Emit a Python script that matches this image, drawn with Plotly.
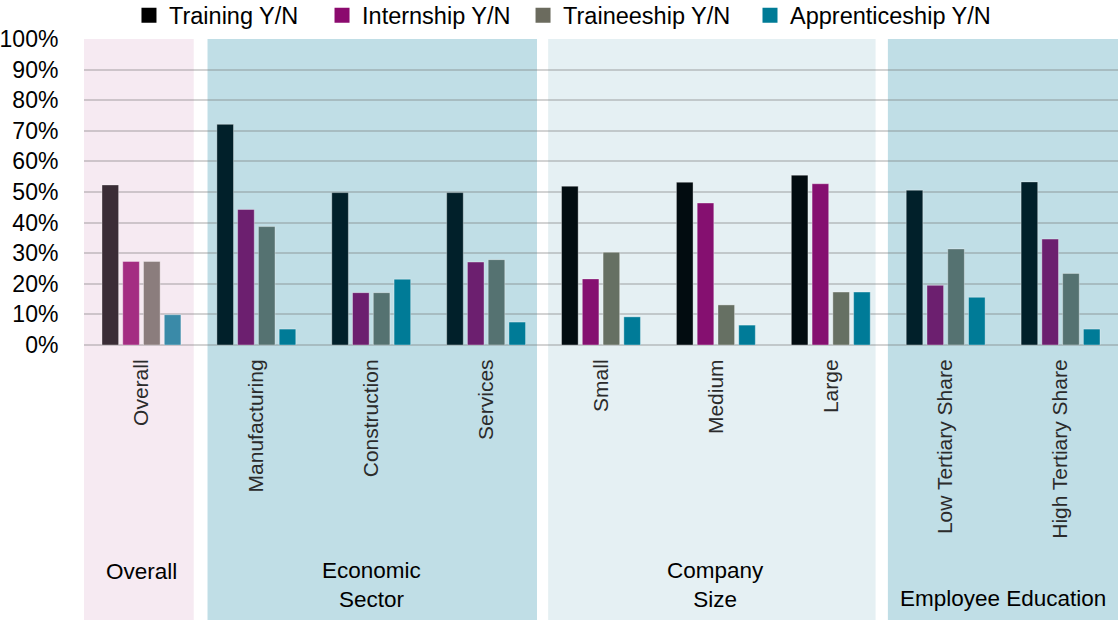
import plotly.graph_objects as go

categories = ["Overall", "Manufacturing", "Construction", "Services", "Small", "Medium",
              "Large", "Low Tertiary Share", "High Tertiary Share"]
series_names = ["Training Y/N", "Internship Y/N", "Traineeship Y/N", "Apprenticeship Y/N"]
training = [0.523, 0.721, 0.498, 0.498, 0.519, 0.532, 0.555, 0.506, 0.533]
internship = [0.273, 0.443, 0.171, 0.271, 0.216, 0.464, 0.527, 0.195, 0.346]
traineeship = [0.273, 0.387, 0.171, 0.279, 0.303, 0.131, 0.173, 0.314, 0.234]
apprenticeship = [0.099, 0.052, 0.215, 0.075, 0.092, 0.065, 0.173, 0.156, 0.052]
group_labels = ["Overall", "Economic<br>Sector", "Company<br>Size", "Employee Education"]
group_label_x = [0, 2, 5, 7.5]
group_label_y = [-0.739, -0.783, -0.783, -0.827]
bands = [(-0.55, 0.455, "#f6eaf2"), (0.575, 3.443, "#c0dee6"),
         (3.54, 6.39, "#e5f0f3"), (6.497, 8.6, "#c0dee6")]
legend_x = [0.0435, 0.2302, 0.4246, 0.6441]

values = [training, internship, traineeship, apprenticeship]

# colour per group of categories (overall / sector / size / education)
pal_overall = ["#3a2d36", "#a42d82", "#8b7d7d", "#3a8aa8"]
pal_sector = ["#01202a", "#6c1f6f", "#557271", "#007b97"]
pal_size = ["#020c10", "#851070", "#667063", "#007b98"]
cat_pal = [pal_overall, pal_sector, pal_sector, pal_sector, pal_size, pal_size, pal_size,
           pal_sector, pal_sector]
legend_colors = ["#000000", "#8b0a6e", "#6b6b5e", "#007b96"]
legend_ids = ["legend", "legend2", "legend3", "legend4"]

fig = go.Figure()
for s, (name, vals) in enumerate(zip(series_names, values)):
    fig.add_trace(go.Bar(
        x=categories, y=vals, name=name, showlegend=False,
        marker=dict(color=[cat_pal[i][s] for i in range(len(categories))],
                    line=dict(width=1, color="rgba(255,255,255,0.35)")),
        hoverinfo="x+y+name"))
for s, name in enumerate(series_names):
    fig.add_trace(go.Scatter(
        x=[None], y=[None], mode="markers", name=name, legend=legend_ids[s],
        marker=dict(symbol="square", size=15, color=legend_colors[s])))

shapes = []
for x0, x1, col in bands:
    shapes.append(dict(type="rect", xref="x", yref="paper", x0=x0, x1=x1, y0=-1.0, y1=1.0,
                       fillcolor=col, line=dict(width=0), layer="below"))

annotations = []
for lab, gx, gy in zip(group_labels, group_label_x, group_label_y):
    annotations.append(dict(text=lab, x=gx, xref="x", y=gy, yref="paper", showarrow=False,
                            xanchor="center", yanchor="middle",
                            font=dict(size=22.5, color="#000000")))

font_family = "Liberation Sans, Arial, sans-serif"
legend_layout = {}
for lid, lx in zip(legend_ids, legend_x):
    legend_layout[lid] = dict(orientation="h", x=lx, xanchor="left", y=1.077, yanchor="middle",
                              font=dict(size=23.5), itemsizing="trace",
                              bgcolor="rgba(0,0,0,0)")

fig.update_layout(
    width=1118, height=620,
    margin=dict(l=84, r=0, t=39, b=275, autoexpand=False),
    paper_bgcolor="white", plot_bgcolor="white",
    font=dict(family=font_family, color="#000000"),
    barmode="group", bargap=0.277, bargroupgap=0.2,
    shapes=shapes, annotations=annotations,
    xaxis=dict(range=[-0.5, 8.5], tickangle=-90, tickfont=dict(size=21, color="#2b2b2b"),
               ticks="outside", ticklen=5, tickcolor="rgba(0,0,0,0)", showgrid=False,
               showline=False, zeroline=False, fixedrange=True, automargin=False),
    yaxis=dict(range=[0, 1], dtick=0.1, tickformat=".0%", tickfont=dict(size=23),
               ticks="outside", ticklen=20, tickcolor="rgba(0,0,0,0)",
               showgrid=True, gridcolor="rgba(110,110,110,0.3)", gridwidth=2,
               zeroline=True, zerolinecolor="rgba(110,110,110,0.3)", zerolinewidth=2,
               showline=False, automargin=False),
    **legend_layout,
)

fig.write_html("out.html", config={"displayModeBar": False},
               post_script="document.body.style.margin='0';")
